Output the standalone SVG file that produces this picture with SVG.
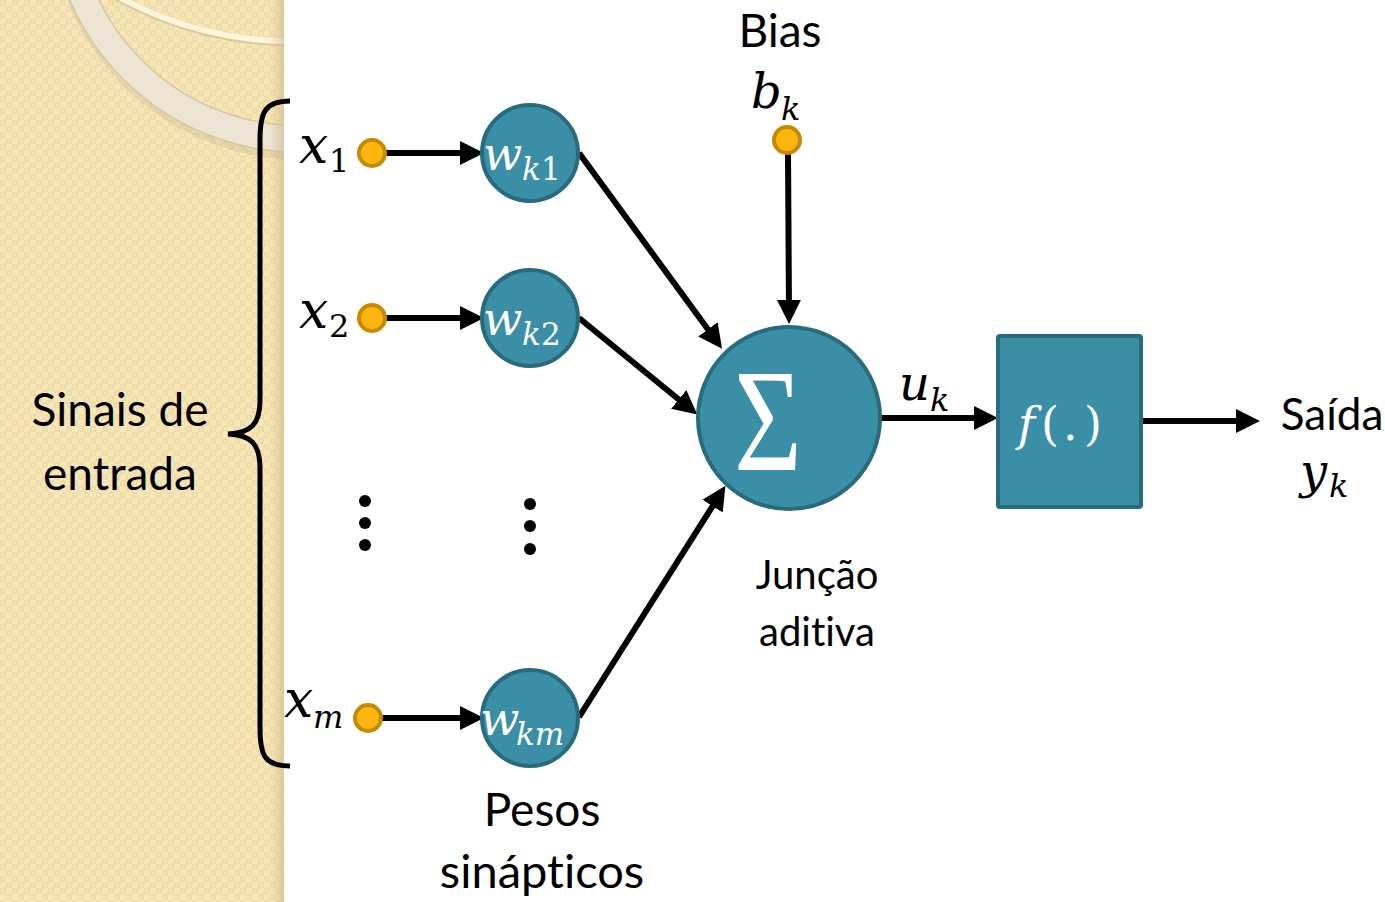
<svg xmlns="http://www.w3.org/2000/svg" width="1385" height="902" viewBox="0 0 1385 902">
<style>
.lbl{font-family:Lato,"Open Sans",sans-serif;fill:#000;font-variant-ligatures:none}
.m{font-family:"DejaVu Serif",serif;font-style:italic}
.d{font-family:"DejaVu Serif",serif;font-style:normal}
.s{font-family:"Liberation Serif",serif;font-style:normal}
.wt{fill:#fff}
.node{fill:#3A8FA6;stroke:#286B7D;stroke-width:4}
.dot{fill:#FFB50F;stroke:#C48A00;stroke-width:4}
.conn{stroke:#000;stroke-width:6;fill:none}
</style>
<defs>
<pattern id="chk" width="12" height="12" patternUnits="userSpaceOnUse">
<rect width="12" height="12" fill="#F7E6B8"/>
<rect width="6" height="6" fill="#EFDCA8"/>
<rect x="6" y="6" width="6" height="6" fill="#EFDCA8"/>
<rect x="2" y="2" width="2" height="2" fill="#F7E6B8"/>
<rect x="8" y="8" width="2" height="2" fill="#F7E6B8"/>
</pattern>
<linearGradient id="edge" x1="0" x2="1" y1="0" y2="0">
<stop offset="0" stop-color="#C8B48A" stop-opacity="0"/>
<stop offset="1" stop-color="#C8B48A" stop-opacity="0.55"/>
</linearGradient>
<clipPath id="panel"><rect x="0" y="0" width="284" height="902"/></clipPath>
<marker id="ah" markerUnits="userSpaceOnUse" markerWidth="24" markerHeight="26" refX="12" refY="13" orient="auto">
<path d="M0,1 L24,13 L0,25 z" fill="#000"/>
</marker>
</defs>
<g id="background">
<rect x="0" y="0" width="1385" height="902" fill="#fff"/>
<rect x="0" y="0" width="284" height="902" fill="url(#chk)"/>
<g clip-path="url(#panel)">
<circle cx="300" cy="-96" r="237" fill="none" stroke="#C9B791" stroke-width="30" opacity="0.35" transform="translate(2,4)"/>
<circle cx="300" cy="-98" r="237" fill="none" stroke="#D6C8A2" stroke-width="28"/>
<circle cx="300" cy="-98" r="237" fill="none" stroke="#ECE5D3" stroke-width="25"/>
<circle cx="290" cy="-311" r="353" fill="none" stroke="#D9C99E" stroke-width="8"/>
<circle cx="290" cy="-312" r="353" fill="none" stroke="#FEF6DA" stroke-width="6"/>
</g>
<rect x="270" y="0" width="14" height="902" fill="url(#edge)"/>
</g>
<g id="brace">
<path d="M290,101 C265,101 260,112 260,140 L260,400 C260,425 250,433 228,434 C250,435 260,443 260,468 L260,728 C260,756 265,766 290,766" fill="none" stroke="#000" stroke-width="5"/>
</g>
<g id="connectors">
<line class="conn" x1="385" y1="153" x2="472" y2="153" marker-end="url(#ah)"/>
<line class="conn" x1="385" y1="318" x2="472" y2="318" marker-end="url(#ah)"/>
<line class="conn" x1="381" y1="718" x2="472" y2="718" marker-end="url(#ah)"/>
<line class="conn" x1="788" y1="153" x2="789" y2="312" marker-end="url(#ah)"/>
<line class="conn" x1="579" y1="153" x2="715" y2="339" marker-end="url(#ah)"/>
<line class="conn" x1="579" y1="318" x2="688" y2="407" marker-end="url(#ah)"/>
<line class="conn" x1="579" y1="717" x2="719" y2="496" marker-end="url(#ah)"/>
<line class="conn" x1="880" y1="418" x2="986" y2="418" marker-end="url(#ah)"/>
<line class="conn" x1="1141" y1="421" x2="1248" y2="421" marker-end="url(#ah)"/>
</g>
<g id="input-x1">
<text x="299" y="163" class="m" font-size="52">x</text><text x="329" y="172" class="d" font-size="32">1</text>
<circle class="dot" cx="372" cy="153" r="13"/>
</g>
<g id="input-x2">
<text x="299" y="328" class="m" font-size="52">x</text><text x="329" y="337" class="d" font-size="32">2</text>
<circle class="dot" cx="372" cy="318" r="13"/>
</g>
<g id="input-xm">
<text x="284" y="717" class="m" font-size="52">x</text><text x="313" y="728" class="m" font-size="32">m</text>
<circle class="dot" cx="368" cy="718" r="13"/>
</g>
<g id="bias">
<text x="780" y="47" class="lbl" font-size="46" text-anchor="middle">Bias</text>
<text x="751" y="108" class="m" font-size="48">b</text><text x="781" y="120" class="m" font-size="32">k</text>
<circle class="dot" cx="787" cy="140" r="13"/>
</g>
<g id="w-k1">
<circle class="node" cx="530" cy="153" r="48"/>
<text x="483" y="170" class="m wt" font-size="46">w</text><text x="522" y="180" class="m wt" font-size="31">k</text><text x="541" y="180" class="d wt" font-size="31">1</text>
</g>
<g id="w-k2">
<circle class="node" cx="530" cy="318" r="48"/>
<text x="483" y="335" class="m wt" font-size="46">w</text><text x="522" y="345" class="m wt" font-size="31">k</text><text x="541" y="345" class="d wt" font-size="31">2</text>
</g>
<g id="w-km">
<circle class="node" cx="530" cy="718" r="48"/>
<text x="480" y="735" class="m wt" font-size="46">w</text><text x="516" y="745" class="m wt" font-size="31">km</text>
</g>
<g id="dots">
<circle cx="365" cy="501" r="6"/><circle cx="365" cy="523" r="6"/><circle cx="365" cy="545" r="6"/>
<circle cx="530" cy="504" r="6"/><circle cx="530" cy="526" r="6"/><circle cx="530" cy="549" r="6"/>
</g>
<g id="sum">
<circle class="node" cx="789" cy="418" r="91"/>
<g transform="translate(768,470) scale(0.8,1)"><text x="0" y="0" class="s wt" font-size="146" text-anchor="middle">Σ</text></g>
</g>
<g id="uk-label">
<text x="899" y="400" class="m" font-size="48">u</text><text x="930" y="411" class="m" font-size="32">k</text>
</g>
<g id="activation">
<rect class="node" x="998" y="336" width="143" height="171" rx="2"/>
<text y="440" class="wt" font-size="46"><tspan x="1018" class="m">f</tspan><tspan x="1041" class="d">(</tspan><tspan x="1063" class="d">.</tspan><tspan x="1084" class="d">)</tspan></text>
</g>
<g id="output">
<text x="1332" y="430" class="lbl" font-size="44" text-anchor="middle">Saída</text>
<text x="1300" y="488" class="m" font-size="48">y</text><text x="1329" y="497" class="m" font-size="32">k</text>
</g>
<g id="labels">
<text x="120" y="426" class="lbl" font-size="46" text-anchor="middle">Sinais de</text>
<text x="120" y="490" class="lbl" font-size="46" text-anchor="middle">entrada</text>
<text x="817" y="589" class="lbl" font-size="40" text-anchor="middle">Junção</text>
<text x="817" y="646" class="lbl" font-size="40" text-anchor="middle">aditiva</text>
<text x="542" y="826" class="lbl" font-size="46" text-anchor="middle">Pesos</text>
<text x="542" y="888" class="lbl" font-size="47" text-anchor="middle">sinápticos</text>
</g>
</svg>
